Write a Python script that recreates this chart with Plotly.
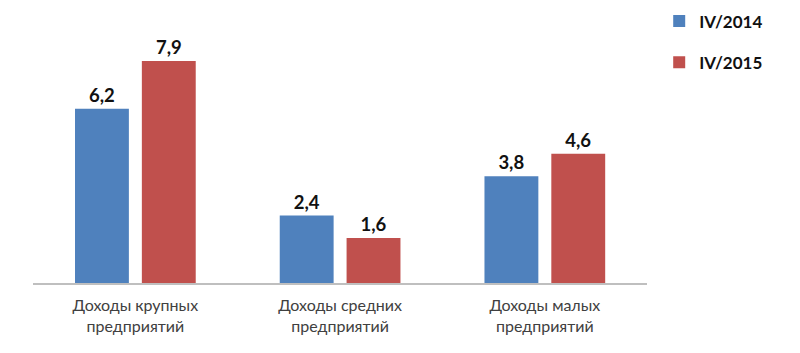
import plotly.graph_objects as go

categories = ["Доходы крупных<br>предприятий", "Доходы средних<br>предприятий", "Доходы малых<br>предприятий"]
series_names = ["IV/2014", "IV/2015"]
values_2014 = [6.2, 2.4, 3.8]
values_2015 = [7.9, 1.6, 4.6]
colors = ["#4F81BD", "#C0504D"]

def fmt(v):
    return f"{v:.1f}".replace(".", ",")

fig = go.Figure()
for name, vals, col in zip(series_names, [values_2014, values_2015], colors):
    fig.add_trace(go.Bar(
        x=categories, y=vals, name=name, legendgroup=name,
        marker=dict(color=col, line=dict(width=0)),
        text=[fmt(v) for v in vals], textposition="outside",
        textfont=dict(family="Lato", size=18.5, color="#111111", weight="bold"),
        cliponaxis=False,
    ))

fig.update_layout(
    width=800, height=353,
    margin=dict(l=33, r=151, t=30, b=70),
    paper_bgcolor="white", plot_bgcolor="white",
    barmode="group", bargap=0.347, bargroupgap=0.194,
    font=dict(family="Lato"),
    showlegend=True,
    legend=dict(
        xref="container", yref="container",
        x=0.824, y=0.99, xanchor="left", yanchor="top",
        font=dict(family="Lato", size=17, color="#111111", weight="bold"),
        tracegroupgap=16, itemwidth=30,
    ),
    xaxis=dict(
        showline=True, linecolor="#BFBFBF", linewidth=2,
        showgrid=False, ticks="outside", ticklen=7, tickcolor="rgba(0,0,0,0)",
        tickfont=dict(family="Lato", size=16, color="#404040"),
    ),
    yaxis=dict(range=[0, 9], visible=False, showgrid=False),
)

fig.write_html("out.html")
